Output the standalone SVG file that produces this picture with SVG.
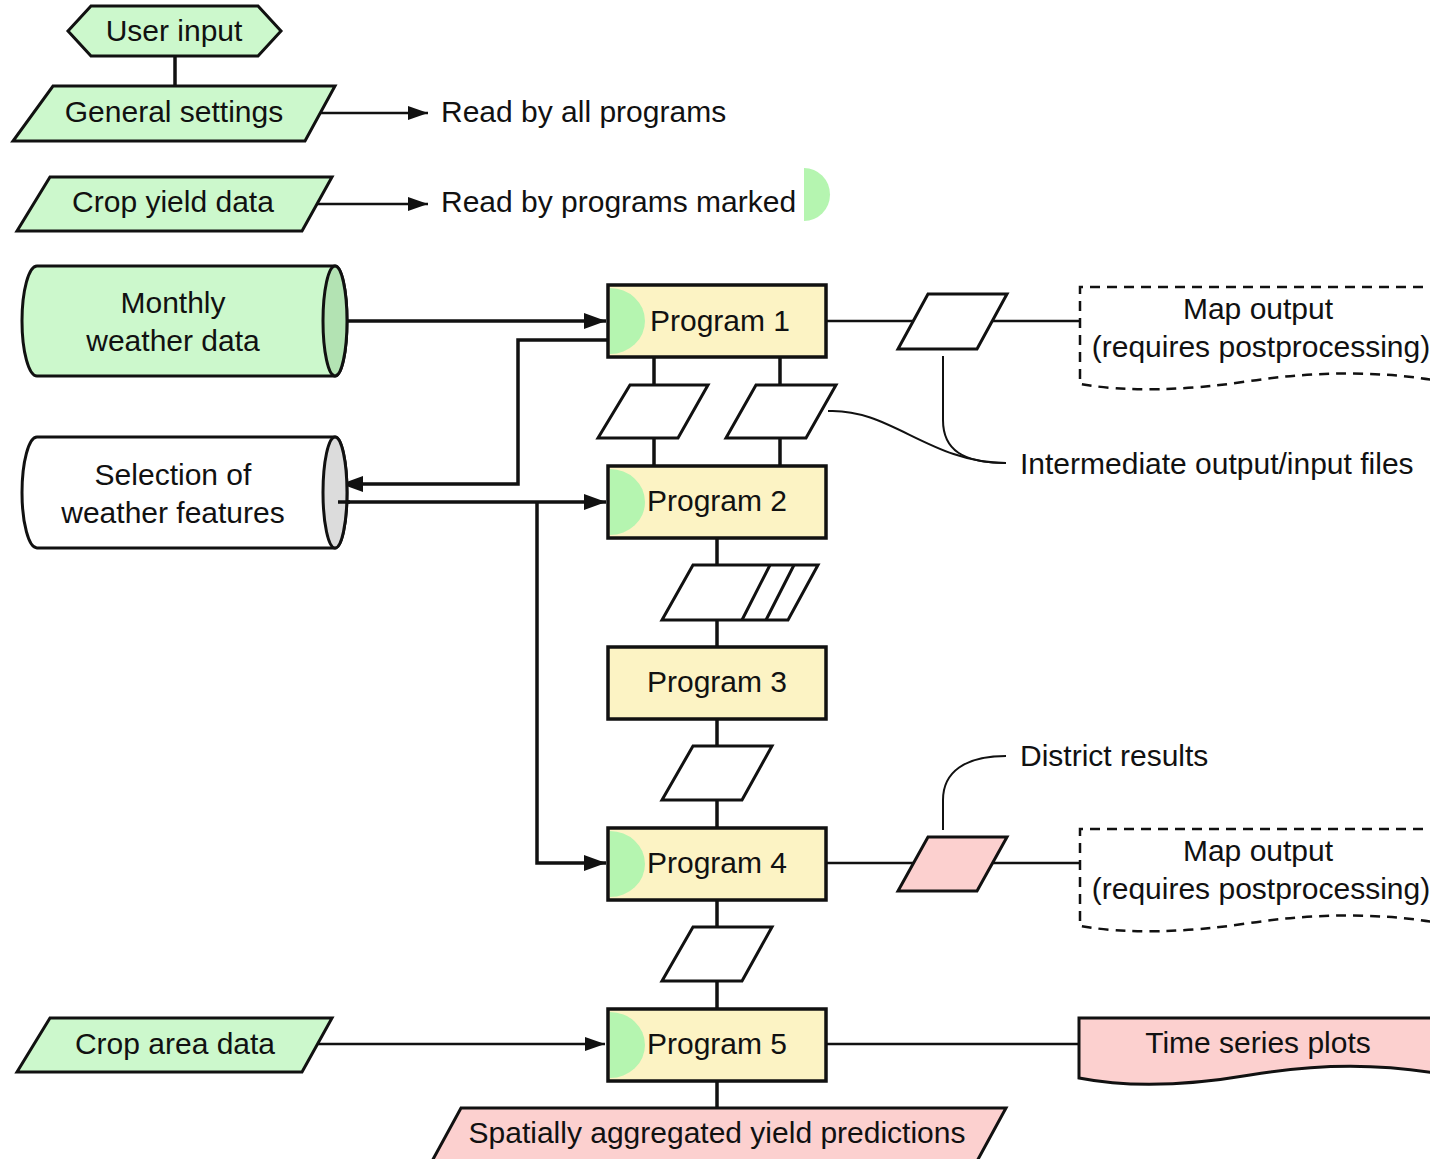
<svg xmlns="http://www.w3.org/2000/svg" width="1430" height="1159" viewBox="0 0 1430 1159">
<defs>
<style>
.t{font-family:"Liberation Sans",Arial,sans-serif;font-size:30px;fill:#111}
.c{text-anchor:middle}
.g{fill:#ccf8cc;stroke:#111;stroke-width:3}
.p{fill:#fcf3c4;stroke:#111;stroke-width:3.5}
.w{fill:#fff;stroke:#111;stroke-width:3}
.k{fill:#fcd0cf;stroke:#111;stroke-width:3}
.moon{fill:#b5f5b0}
.ln{fill:none;stroke:#111;stroke-width:3.5}
.thin{fill:none;stroke:#111;stroke-width:2.5}
.dash{fill:none;stroke:#111;stroke-width:2.5;stroke-dasharray:10 7}
.cb{fill:none;stroke:#111;stroke-width:2}
</style>
<marker id="ah" markerUnits="userSpaceOnUse" markerWidth="22" markerHeight="16" refX="22" refY="8" orient="auto"><path d="M0,0 L22,8 L0,16 z" fill="#111"/></marker>
<marker id="ahs" markerUnits="userSpaceOnUse" markerWidth="20" markerHeight="14" refX="20" refY="7" orient="auto"><path d="M0,0 L20,7 L0,14 z" fill="#111"/></marker>
</defs>
<rect width="1430" height="1159" fill="#fff"/>

<g id="connectors">
<path class="ln" d="M175 57 L175 86"/>
<path class="thin" d="M320 113 L428 113" marker-end="url(#ahs)"/>
<path class="thin" d="M317 204 L428 204" marker-end="url(#ahs)"/>
<path class="ln" d="M338 321 L606 321" marker-end="url(#ah)"/>
<path class="ln" d="M608 340 L518 340 L518 484 L341 484" marker-end="url(#ah)"/>
<path class="ln" d="M338 502 L606 502" marker-end="url(#ah)"/>
<path class="ln" d="M537 502 L537 863 L606 863" marker-end="url(#ah)"/>
<path class="thin" d="M318 1044 L605 1044" marker-end="url(#ahs)"/>
<path class="ln" d="M654 357 L654 466 M780 357 L780 466"/>
<path class="ln" d="M717 538 L717 647 M717 719 L717 828 M717 900 L717 1009 M717 1081 L717 1108"/>
<path class="thin" d="M827 321 L1080 321"/>
<path class="thin" d="M827 863 L1080 863"/>
<path class="thin" d="M827 1044 L1080 1044"/>
<path class="cb" d="M828 411 C890 408 930 463 1006 463"/>
<path class="cb" d="M943 356 L943 420 C943 450 963 463 1006 463"/>
<path class="cb" d="M943 830 L943 800 C943 772 965 756 1006 756"/>
</g>

<g id="user-input">
<path class="g" d="M68 31 L91 6 L258 6 L281 31 L258 56 L91 56 Z"/>
<text class="t c" x="174" y="41">User input</text>
</g>
<g id="general-settings">
<path class="g" d="M53 86 L335 86 L305 141 L13 141 Z"/>
<text class="t c" x="174" y="122">General settings</text>
</g>
<g id="read-all">
<text class="t" x="441" y="122">Read by all programs</text>
</g>
<g id="crop-yield">
<path class="g" d="M50 177 L332 177 L302 231 L17 231 Z"/>
<text class="t c" x="173" y="212">Crop yield data</text>
</g>
<g id="read-marked">
<text class="t" x="441" y="212">Read by programs marked</text>
<path class="moon" d="M804 168 A26 26.5 0 0 1 804 221 Z"/>
</g>
<g id="monthly-weather">
<path class="g" d="M37 266 L335 266 A12 55 0 0 1 335 376 L37 376 A15 55 0 0 1 37 266 Z"/>
<ellipse cx="335" cy="321" rx="12" ry="55" fill="#b3e3b3" stroke="#111" stroke-width="3"/>
<text class="t c" x="173" y="313">Monthly</text>
<text class="t c" x="173" y="351">weather data</text>
</g>
<g id="selection">
<path class="w" d="M37 437 L335 437 A12 55.5 0 0 1 335 548 L37 548 A15 55.5 0 0 1 37 437 Z"/>
<ellipse cx="335" cy="492.5" rx="12" ry="55.5" fill="#dcdcdc" stroke="#111" stroke-width="3"/>
<text class="t c" x="173" y="485">Selection of</text>
<text class="t c" x="173" y="523">weather features</text>
<path class="ln" d="M338 502 L350 502"/>
</g>

<g id="program1">
<rect class="p" x="608" y="285" width="218" height="72"/>
<path class="moon" d="M610 288 A35 33 0 0 1 610 354 Z"/>
<text class="t c" x="720" y="331">Program 1</text>
</g>
<g id="file1a"><path class="w" d="M630 385 L708 385 L678 438 L598 438 Z"/></g>
<g id="file1b"><path class="w" d="M756 385 L836 385 L806 438 L726 438 Z"/></g>
<g id="program2">
<rect class="p" x="608" y="466" width="218" height="72"/>
<path class="moon" d="M610 469 A35 33 0 0 1 610 535 Z"/>
<text class="t c" x="717" y="511">Program 2</text>
</g>
<g id="files2">
<path class="w" d="M693 565 L818 565 L788 620 L662 620 Z"/>
<path class="thin" style="stroke-width:3" d="M770 565 L742 620 M794 565 L766 620"/>
</g>
<g id="program3">
<rect class="p" x="608" y="647" width="218" height="72"/>
<text class="t c" x="717" y="692">Program 3</text>
</g>
<g id="file3"><path class="w" d="M693 746 L772 746 L742 800 L662 800 Z"/></g>
<g id="program4">
<rect class="p" x="608" y="828" width="218" height="72"/>
<path class="moon" d="M610 831 A35 33 0 0 1 610 897 Z"/>
<text class="t c" x="717" y="873">Program 4</text>
</g>
<g id="file4"><path class="w" d="M693 927 L772 927 L742 981 L662 981 Z"/></g>
<g id="program5">
<rect class="p" x="608" y="1009" width="218" height="72"/>
<path class="moon" d="M610 1012 A35 33 0 0 1 610 1078 Z"/>
<text class="t c" x="717" y="1054">Program 5</text>
</g>

<g id="file-map1"><path class="w" d="M928 294 L1007 294 L977 349 L898 349 Z"/></g>
<g id="map-output1">
<path class="dash" d="M1440 287 L1080 287 L1080 384 Q1150 396 1250 381 T1440 381"/>
<text class="t c" x="1258" y="319">Map output</text>
<text class="t c" x="1261" y="357">(requires postprocessing)</text>
</g>
<g id="intermediate-label">
<text class="t" x="1020" y="474">Intermediate output/input files</text>
</g>

<g id="district-file"><path class="k" d="M928 837 L1007 837 L977 891 L898 891 Z"/></g>
<g id="district-label">
<text class="t" x="1020" y="766">District results</text>
</g>
<g id="map-output2">
<path class="dash" d="M1440 829 L1080 829 L1080 926 Q1150 938 1250 923 T1440 923"/>
<text class="t c" x="1258" y="861">Map output</text>
<text class="t c" x="1261" y="899">(requires postprocessing)</text>
</g>

<g id="crop-area">
<path class="g" d="M50 1018 L332 1018 L302 1072 L17 1072 Z"/>
<text class="t c" x="175" y="1054">Crop area data</text>
</g>
<g id="time-series">
<path class="k" d="M1079 1078 Q1150 1092 1250 1075 T1440 1074 L1440 1018 L1079 1018 Z"/>
<text class="t c" x="1258" y="1053">Time series plots</text>
</g>
<g id="spatial-predictions">
<path class="k" d="M461 1108 L1006 1108 L976 1163 L431 1163 Z"/>
<text class="t c" x="717" y="1143">Spatially aggregated yield predictions</text>
</g>
</svg>
